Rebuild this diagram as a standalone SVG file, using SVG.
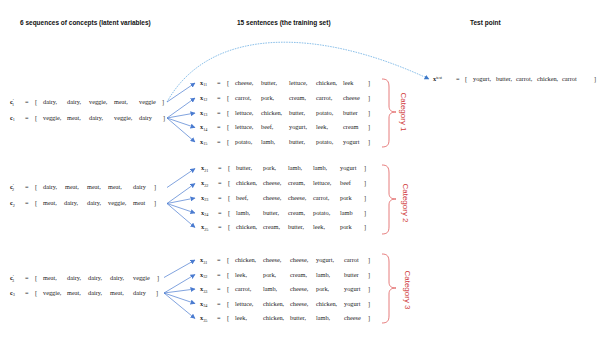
<svg xmlns="http://www.w3.org/2000/svg" width="603" height="339" viewBox="0 0 603 339">
<style>
.hdr{font-family:"Liberation Sans",Arial,sans-serif;font-weight:bold;font-size:6.5px;fill:#111}
.m{font-family:"Liberation Serif","DejaVu Serif",serif;font-size:6.3px;fill:#222}
.v{font-weight:bold}
.s{font-size:4.2px}
.p{font-size:5px}
.cat{font-family:"Liberation Sans",Arial,sans-serif;font-size:8px;fill:#D03A3A}
.brace{fill:none;stroke:#E05A5A;stroke-width:0.8}
.arr{fill:none;stroke:#4A7BD0;stroke-width:0.7;marker-end:url(#ah)}
.dash{fill:none;stroke:#5AA5E0;stroke-width:0.7;stroke-dasharray:1.6 1;marker-end:url(#ah2)}
</style>
<defs>
<marker id="ah" viewBox="0 0 10 10" refX="9" refY="5" markerWidth="5" markerHeight="5" markerUnits="userSpaceOnUse" orient="auto"><path d="M0,0 L10,5 L0,10 z" fill="#4A7BD0"/></marker>
<marker id="ah2" viewBox="0 0 10 10" refX="9" refY="5" markerWidth="5" markerHeight="5" markerUnits="userSpaceOnUse" orient="auto"><path d="M0,0 L10,5 L0,10 z" fill="#3C78C8"/></marker>
</defs>
<rect width="603" height="339" fill="#fff"/>

<g id="headers">
<text class="hdr" x="20" y="25">6 sequences of concepts (latent variables)</text>
<text class="hdr" x="237" y="25">15 sentences (the training set)</text>
<text class="hdr" x="470" y="25">Test point</text>
</g>

<g id="connectors">
<path class="dash" d="M167,102 C210,25 320,28 429,79"/>
<line class="arr" x1="167" y1="102" x2="195" y2="83"/>
<line class="arr" x1="167" y1="118" x2="195" y2="98"/>
<line class="arr" x1="167" y1="118" x2="195" y2="113"/>
<line class="arr" x1="167" y1="118" x2="195" y2="127.5"/>
<line class="arr" x1="167" y1="118" x2="195" y2="142"/>
<line class="arr" x1="167" y1="187.5" x2="195" y2="168.5"/>
<line class="arr" x1="167" y1="203.5" x2="195" y2="183.5"/>
<line class="arr" x1="167" y1="203.5" x2="195" y2="198"/>
<line class="arr" x1="167" y1="203.5" x2="195" y2="213"/>
<line class="arr" x1="167" y1="203.5" x2="195" y2="227.5"/>
<line class="arr" x1="164" y1="277.5" x2="195" y2="260"/>
<line class="arr" x1="164" y1="293" x2="195" y2="274.5"/>
<line class="arr" x1="164" y1="293" x2="195" y2="289"/>
<line class="arr" x1="164" y1="293" x2="195" y2="303.5"/>
<line class="arr" x1="164" y1="293" x2="195" y2="318.5"/>
</g>

<!-- latent sequences -->
<g id="c1p" class="m">
<text x="10" y="104"><tspan class="v">c</tspan><tspan class="p" dy="-2.2">′</tspan><tspan class="s" dx="-1.8" dy="3.8">1</tspan></text>
<text x="25" y="104">=</text><text x="35" y="104">[</text>
<text x="43" y="104">dairy,</text><text x="67" y="104">dairy,</text><text x="89" y="104">veggie,</text><text x="114" y="104">meat,</text><text x="139" y="104">veggie</text><text x="162" y="104">]</text>
</g>
<g id="c1" class="m">
<text x="10" y="119.5"><tspan class="v">c</tspan><tspan class="s" dy="1.6">1</tspan></text>
<text x="25" y="119.5">=</text><text x="35" y="119.5">[</text>
<text x="43" y="119.5">veggie,</text><text x="67" y="119.5">meat,</text><text x="89" y="119.5">dairy,</text><text x="114" y="119.5">veggie,</text><text x="139" y="119.5">dairy</text><text x="163" y="119.5">]</text>
</g>
<g id="c2p" class="m">
<text x="10" y="189.3"><tspan class="v">c</tspan><tspan class="p" dy="-2.2">′</tspan><tspan class="s" dx="-1.8" dy="3.8">2</tspan></text>
<text x="25" y="189.3">=</text><text x="35" y="189.3">[</text>
<text x="43" y="189.3">dairy,</text><text x="65" y="189.3">meat,</text><text x="87" y="189.3">meat,</text><text x="108" y="189.3">meat,</text><text x="133" y="189.3">dairy</text><text x="154" y="189.3">]</text>
</g>
<g id="c2" class="m">
<text x="10" y="205"><tspan class="v">c</tspan><tspan class="s" dy="1.6">2</tspan></text>
<text x="25" y="205">=</text><text x="35" y="205">[</text>
<text x="43" y="205">meat,</text><text x="64" y="205">dairy,</text><text x="87" y="205">dairy,</text><text x="108" y="205">veggie,</text><text x="133" y="205">meat</text><text x="154" y="205">]</text>
</g>
<g id="c3p" class="m">
<text x="10" y="280"><tspan class="v">c</tspan><tspan class="p" dy="-2.2">′</tspan><tspan class="s" dx="-1.8" dy="3.8">3</tspan></text>
<text x="25" y="280">=</text><text x="35" y="280">[</text>
<text x="43" y="280">meat,</text><text x="67" y="280">dairy,</text><text x="88" y="280">dairy,</text><text x="110" y="280">dairy,</text><text x="133" y="280">veggie</text><text x="157" y="280">]</text>
</g>
<g id="c3" class="m">
<text x="10" y="294.5"><tspan class="v">c</tspan><tspan class="s" dy="1.6">3</tspan></text>
<text x="25" y="294.5">=</text><text x="35" y="294.5">[</text>
<text x="43" y="294.5">veggie,</text><text x="67" y="294.5">meat,</text><text x="88" y="294.5">dairy,</text><text x="110" y="294.5">meat,</text><text x="133" y="294.5">dairy</text><text x="156" y="294.5">]</text>
</g>

<!-- sentences group 1 -->
<g id="x11" class="m">
<text x="200" y="84.5"><tspan class="v">x</tspan><tspan class="s" dy="1.6">11</tspan></text>
<text x="217" y="84.5">=</text><text x="227" y="84.5">[</text>
<text x="235" y="84.5">cheese,</text><text x="261" y="84.5">butter,</text><text x="289" y="84.5">lettuce,</text><text x="316" y="84.5">chicken,</text><text x="343" y="84.5">leek</text><text x="368" y="84.5">]</text>
</g>
<g id="x12" class="m">
<text x="200" y="99.5"><tspan class="v">x</tspan><tspan class="s" dy="1.6">12</tspan></text>
<text x="217" y="99.5">=</text><text x="227" y="99.5">[</text>
<text x="235" y="99.5">carrot,</text><text x="261" y="99.5">pork,</text><text x="289" y="99.5">cream,</text><text x="316" y="99.5">carrot,</text><text x="343" y="99.5">cheese</text><text x="368" y="99.5">]</text>
</g>
<g id="x13" class="m">
<text x="200" y="114.5"><tspan class="v">x</tspan><tspan class="s" dy="1.6">13</tspan></text>
<text x="217" y="114.5">=</text><text x="227" y="114.5">[</text>
<text x="235" y="114.5">lettuce,</text><text x="261" y="114.5">chicken,</text><text x="289" y="114.5">butter,</text><text x="316" y="114.5">potato,</text><text x="343" y="114.5">butter</text><text x="368" y="114.5">]</text>
</g>
<g id="x14" class="m">
<text x="200" y="129.3"><tspan class="v">x</tspan><tspan class="s" dy="1.6">14</tspan></text>
<text x="217" y="129.3">=</text><text x="227" y="129.3">[</text>
<text x="235" y="129.3">lettuce,</text><text x="261" y="129.3">beef,</text><text x="289" y="129.3">yogurt,</text><text x="316" y="129.3">leek,</text><text x="343" y="129.3">cream</text><text x="368" y="129.3">]</text>
</g>
<g id="x15" class="m">
<text x="200" y="143.8"><tspan class="v">x</tspan><tspan class="s" dy="1.6">15</tspan></text>
<text x="217" y="143.8">=</text><text x="227" y="143.8">[</text>
<text x="235" y="143.8">potato,</text><text x="261" y="143.8">lamb,</text><text x="289" y="143.8">butter,</text><text x="316" y="143.8">potato,</text><text x="343" y="143.8">yogurt</text><text x="368" y="143.8">]</text>
</g>

<!-- sentences group 2 -->
<g id="x21" class="m">
<text x="201" y="170.3"><tspan class="v">x</tspan><tspan class="s" dy="1.6">21</tspan></text>
<text x="218" y="170.3">=</text><text x="228" y="170.3">[</text>
<text x="236" y="170.3">butter,</text><text x="263" y="170.3">pork,</text><text x="288" y="170.3">lamb,</text><text x="313" y="170.3">lamb,</text><text x="340" y="170.3">yogurt</text><text x="364" y="170.3">]</text>
</g>
<g id="x22" class="m">
<text x="201" y="185.3"><tspan class="v">x</tspan><tspan class="s" dy="1.6">22</tspan></text>
<text x="218" y="185.3">=</text><text x="228" y="185.3">[</text>
<text x="236" y="185.3">chicken,</text><text x="263" y="185.3">cheese,</text><text x="288" y="185.3">cream,</text><text x="313" y="185.3">lettuce,</text><text x="340" y="185.3">beef</text><text x="364" y="185.3">]</text>
</g>
<g id="x23" class="m">
<text x="201" y="199.8"><tspan class="v">x</tspan><tspan class="s" dy="1.6">23</tspan></text>
<text x="218" y="199.8">=</text><text x="228" y="199.8">[</text>
<text x="236" y="199.8">beef,</text><text x="263" y="199.8">cheese,</text><text x="288" y="199.8">cheese,</text><text x="313" y="199.8">carrot,</text><text x="340" y="199.8">pork</text><text x="364" y="199.8">]</text>
</g>
<g id="x24" class="m">
<text x="201" y="214.8"><tspan class="v">x</tspan><tspan class="s" dy="1.6">24</tspan></text>
<text x="218" y="214.8">=</text><text x="228" y="214.8">[</text>
<text x="236" y="214.8">lamb,</text><text x="263" y="214.8">butter,</text><text x="288" y="214.8">cream,</text><text x="313" y="214.8">potato,</text><text x="340" y="214.8">lamb</text><text x="364" y="214.8">]</text>
</g>
<g id="x25" class="m">
<text x="201" y="229.3"><tspan class="v">x</tspan><tspan class="s" dy="1.6">25</tspan></text>
<text x="218" y="229.3">=</text><text x="228" y="229.3">[</text>
<text x="236" y="229.3">chicken,</text><text x="263" y="229.3">cream,</text><text x="288" y="229.3">butter,</text><text x="313" y="229.3">leek,</text><text x="340" y="229.3">pork</text><text x="364" y="229.3">]</text>
</g>

<!-- sentences group 3 -->
<g id="x31" class="m">
<text x="200" y="262"><tspan class="v">x</tspan><tspan class="s" dy="1.6">31</tspan></text>
<text x="217" y="262">=</text><text x="227" y="262">[</text>
<text x="235" y="262">chicken,</text><text x="263" y="262">cheese,</text><text x="290" y="262">cheese,</text><text x="316" y="262">yogurt,</text><text x="344" y="262">carrot</text><text x="368" y="262">]</text>
</g>
<g id="x32" class="m">
<text x="200" y="276.5"><tspan class="v">x</tspan><tspan class="s" dy="1.6">32</tspan></text>
<text x="217" y="276.5">=</text><text x="227" y="276.5">[</text>
<text x="235" y="276.5">leek,</text><text x="263" y="276.5">pork,</text><text x="290" y="276.5">cream,</text><text x="316" y="276.5">lamb,</text><text x="344" y="276.5">butter</text><text x="368" y="276.5">]</text>
</g>
<g id="x33" class="m">
<text x="200" y="291"><tspan class="v">x</tspan><tspan class="s" dy="1.6">33</tspan></text>
<text x="217" y="291">=</text><text x="227" y="291">[</text>
<text x="235" y="291">carrot,</text><text x="263" y="291">lamb,</text><text x="290" y="291">cheese,</text><text x="316" y="291">pork,</text><text x="344" y="291">yogurt</text><text x="368" y="291">]</text>
</g>
<g id="x34" class="m">
<text x="200" y="305.5"><tspan class="v">x</tspan><tspan class="s" dy="1.6">34</tspan></text>
<text x="217" y="305.5">=</text><text x="227" y="305.5">[</text>
<text x="235" y="305.5">lettuce,</text><text x="263" y="305.5">chicken,</text><text x="290" y="305.5">cheese,</text><text x="316" y="305.5">chicken,</text><text x="344" y="305.5">yogurt</text><text x="368" y="305.5">]</text>
</g>
<g id="x35" class="m">
<text x="200" y="320.3"><tspan class="v">x</tspan><tspan class="s" dy="1.6">35</tspan></text>
<text x="217" y="320.3">=</text><text x="227" y="320.3">[</text>
<text x="235" y="320.3">leek,</text><text x="263" y="320.3">chicken,</text><text x="290" y="320.3">butter,</text><text x="316" y="320.3">lamb,</text><text x="344" y="320.3">cheese</text><text x="368" y="320.3">]</text>
</g>

<!-- test point -->
<g id="xtest" class="m">
<text x="433" y="81"><tspan class="v">x</tspan><tspan class="s" dy="-2.2">test</tspan></text>
<text x="456" y="81">=</text><text x="465" y="81">[</text>
<text x="473" y="81">yogurt,</text><text x="496" y="81">butter,</text><text x="516" y="81">carrot,</text><text x="537" y="81">chicken,</text><text x="562" y="81">carrot</text><text x="594" y="81">]</text>
</g>

<!-- categories -->
<g id="cat1">
<path class="brace" d="M382,79 C387,79 389,81 389,87 L389,106 C389,110 391,112 396,112 C391,112 389,114 389,118 L389,140 C389,145 387,147 382,147"/>
<text class="cat" transform="translate(403,112) rotate(90)" text-anchor="middle" dominant-baseline="central">Category 1</text>
</g>
<g id="cat2">
<path class="brace" d="M382,165 C387,165 389,167 389,173 L389,193 C389,197 391,199 396,199 C391,199 389,201 389,205 L389,227 C389,232 387,234 382,234"/>
<text class="cat" transform="translate(405,203) rotate(90)" text-anchor="middle" dominant-baseline="central">Category 2</text>
</g>
<g id="cat3">
<path class="brace" d="M382,254 C387,254 389,256 389,262 L389,282 C389,286 391,288 396,288 C391,288 389,290 389,294 L389,316 C389,321 387,323 382,323"/>
<text class="cat" transform="translate(407,290) rotate(90)" text-anchor="middle" dominant-baseline="central">Category 3</text>
</g>
</svg>
